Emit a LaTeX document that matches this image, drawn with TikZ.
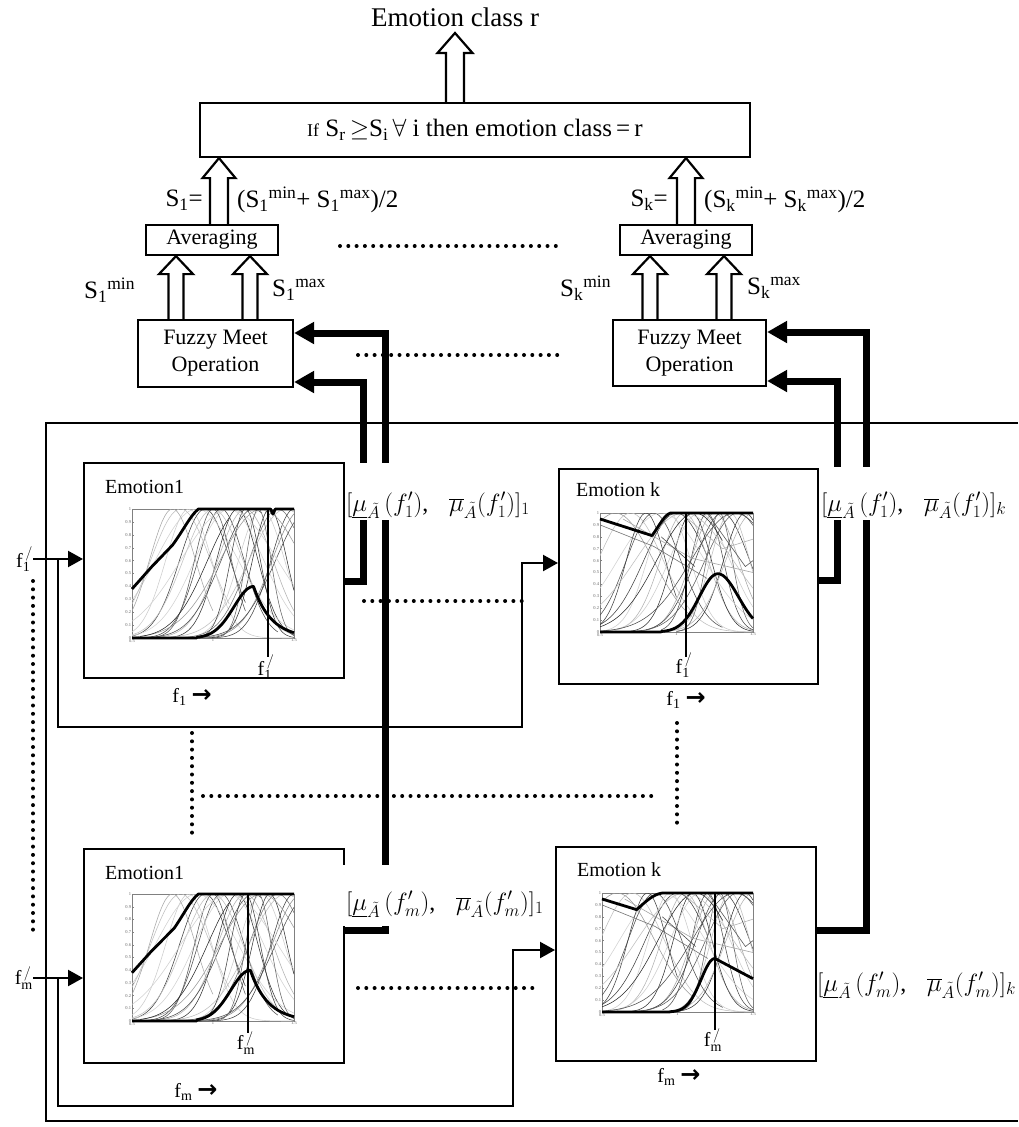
\documentclass[tikz,border=0pt]{standalone}
\usepackage{fontspec}
\setmainfont{Liberation Serif}
\newfontfamily\djv{DejaVu Sans}
\usetikzlibrary{arrows.meta,calc}
\newcommand\fp[1]{f$_{\mathrm{#1}}^{\,/}$}
\newcommand\rarr{{\djv\bfseries\fontsize{24}{24}\selectfont →}}
\newcommand\mulab[2]{$[\underline{\mu}_{\tilde{A}}\,(f_{#1}')\mbox{,}\;\;\;\overline{\mu}_{\tilde{A}}(f_{#1}')]_{#2}$}
\newcommand\harrow[5]{%
  \draw[hollow] let \p1=(#1), \p2=(#2) in
    (\x1-#3,\y1) -- (\x1-#3,\y2-#5) -- (\x1-#4,\y2-#5) -- (\x1,\y2) -- (\x1+#4,\y2-#5) -- (\x1+#3,\y2-#5) -- (\x1+#3,\y1);}
\newcommand\fplot[5]{\begin{scope}[shift={(#1,#2)},x={(#3pt,0pt)},y={(0pt,#4pt)}]#5\end{scope}}
\newcommand\plotaxes{%
  \draw[black!50,line width=0.5pt] (0,0) rectangle (1,1);
  \foreach \tk in {0,...,10}{%
    \draw[black!50,line width=0.4pt] (0,\tk/10) -- ++(2pt,0);
    \node[ticklab,anchor=east] at (0,\tk/10) {\ifnum\tk=0 0\else\ifnum\tk=10 1\else 0.\tk\fi\fi};}
  \node[ticklab,anchor=north] at (0,0) {0.5};
  \node[ticklab,anchor=north] at (0.5,0) {1};
  \node[ticklab,anchor=north] at (1,0) {1.5};}
\newcommand\curvesA{%
\begin{scope}
\clip (0,0) rectangle (1,1);
\foreach \mc/\mw/\mg/\ma/\mb in {
0.85/0.20/20/0/1, 0.95/0.22/75/0/0.7, 1.00/0.26/25/0/1, 1.05/0.20/70/0.1/0.9,
1.10/0.30/18/0/1, 1.15/0.18/80/0.2/1, 1.20/0.24/30/0/1, 1.25/0.28/70/0/0.8,
1.30/0.20/20/0/1, 1.35/0.15/80/0.35/1, 1.40/0.25/55/0.1/1, 1.45/0.32/25/0/1,
1.50/0.20/75/0.4/1, 1.55/0.26/45/0.2/1, 0.90/0.36/18/0/1, 1.00/0.16/65/0.15/0.7,
1.20/0.13/75/0.4/1, 1.30/0.36/40/0/1, 1.60/0.30/70/0.3/1, 0.80/0.26/25/0/0.6,
1.10/0.42/18/0/1, 1.28/0.11/60/0.55/1, 0.75/0.20/35/0/0.5, 1.18/0.30/85/0.05/0.6}
{\draw[black!\mg,line width=0.55pt] plot[domain=\ma:\mb,samples=28,smooth] (\x,{exp(-((\x+0.5-\mc)*(\x+0.5-\mc))/(\mw*\mw))});}
\end{scope}}
\newcommand\curvesB{%
\begin{scope}
\clip (0,0) rectangle (1,1);
\foreach \mc/\mw/\mg/\ma/\mb in {
0.70/0.30/25/0/1, 0.85/0.25/70/0/0.8, 0.95/0.20/20/0/1, 1.00/0.30/75/0/0.7,
1.05/0.22/30/0.1/1, 1.10/0.18/80/0.2/1, 1.15/0.28/20/0/1, 1.20/0.15/70/0.4/1,
1.25/0.22/35/0.2/1, 1.30/0.25/75/0.3/1, 1.35/0.18/25/0.4/1, 1.40/0.30/65/0.2/1,
1.45/0.20/80/0.5/1, 1.50/0.25/30/0.3/1, 0.60/0.35/40/0/0.6, 0.90/0.40/18/0/1,
1.12/0.35/85/0/0.8, 1.28/0.12/60/0.5/1, 0.80/0.18/75/0/0.5, 1.05/0.45/25/0/1,
1.38/0.40/70/0/1}
{\draw[black!\mg,line width=0.55pt] plot[domain=\ma:\mb,samples=28,smooth] (\x,{exp(-((\x+0.5-\mc)*(\x+0.5-\mc))/(\mw*\mw))});}
\draw[black!55,line width=0.6pt] (0,0.9) -- (0.35,0.72) -- (0.7,0.45);
\draw[black!35,line width=0.6pt] (0.15,0.95) -- (0.6,0.62) -- (1,0.5);
\draw[black!70,line width=0.6pt] (0.4,0.8) -- (0.62,0.55);
\draw[black!30,line width=0.6pt] (0.55,0.98) -- (0.8,0.7) -- (1,0.78);
\draw[black!65,line width=0.6pt] (0.7,1) -- (0.95,0.55) -- (1,0.6);
\end{scope}}
\begin{document}
\begin{tikzpicture}[x=1pt,y=-1pt,
  conn/.style={line width=2.2pt},
  thk/.style={line width=7pt},
  boxs/.style={draw,line width=2.2pt,inner sep=0pt},
  hollow/.style={draw,line width=2.2pt,line join=miter},
  dotl/.style={line width=4pt,line cap=round,dash pattern=on 0pt off 8.3pt},
  env/.style={line width=2.8pt,line join=round},
  lbl/.style={inner sep=0pt},
  mulbl/.style={anchor=base west,fill=white,inner xsep=0pt,inner ysep=0pt,font=\fontsize{24}{26}\selectfont},
  ticklab/.style={inner sep=0.8pt,font=\fontsize{4.5}{5}\selectfont,text=black!60},
  bigtip/.style={-{Triangle[length=20pt,width=21pt]}},
  smalltip/.style={-{Triangle[length=15pt,width=16pt]}},
  fline/.style={line width=1.6pt},
  etext/.style={inner sep=0pt,font=\fontsize{20}{22}\selectfont}]
\fill[white] (0,0) rectangle (1018,1127);
\useasboundingbox (0,0) rectangle (1018,1127);

% outer frame
\draw[conn] (1018,423) -- (46,423) -- (46,1121) -- (1018,1121);

% top part
\node[lbl,font=\fontsize{27}{30}\selectfont] (cls) at (455,17) {Emotion class r};
\node[boxs,minimum width=550pt,minimum height=54pt,font=\fontsize{25}{28}\selectfont] (dec) at (475,130)
  {{\fontsize{18}{20}\selectfont If} S\textsubscript{r}\,$\geq$S\textsubscript{i}\,$\forall$ i then emotion class\,=\,r};
\node[boxs,minimum width=132pt,minimum height=30pt,font=\fontsize{22}{24}\selectfont] (avg1) at (212,240) {Averaging};
\node[boxs,minimum width=132pt,minimum height=30pt,font=\fontsize{22}{24}\selectfont] (avgk) at (686,240) {Averaging};
\node[boxs,minimum width=155pt,minimum height=67pt,align=center,font=\fontsize{22}{27}\selectfont] (fmo1) at (215.5,353.5) {Fuzzy Meet\\Operation};
\node[boxs,minimum width=153pt,minimum height=66pt,align=center,font=\fontsize{22}{27}\selectfont] (fmok) at (689.5,353) {Fuzzy Meet\\Operation};

\coordinate (tt) at (455,33);
\coordinate (s1x) at (219,0);
\coordinate (skx) at (686,0);
\coordinate (a1x) at (176,0);
\coordinate (a2x) at (250,0);
\coordinate (a3x) at (650,0);
\coordinate (a4x) at (724,0);
\harrow{dec.north -| tt}{tt}{9pt}{17.5pt}{20pt}
\harrow{avg1.north -| s1x}{dec.south -| s1x}{9pt}{16.5pt}{20pt}
\harrow{avgk.north -| skx}{dec.south -| skx}{9pt}{16.5pt}{20pt}
\harrow{fmo1.north -| a1x}{avg1.south -| a1x}{7.5pt}{17pt}{18pt}
\harrow{fmo1.north -| a2x}{avg1.south -| a2x}{7.5pt}{17pt}{18pt}
\harrow{fmok.north -| a3x}{avgk.south -| a3x}{7.5pt}{17pt}{18pt}
\harrow{fmok.north -| a4x}{avgk.south -| a4x}{7.5pt}{17pt}{18pt}

\node[lbl,anchor=east,font=\fontsize{25}{28}\selectfont] (s1eq) at (203,200) {S\textsubscript{1}=};
\node[lbl,anchor=west,font=\fontsize{25}{28}\selectfont] (s1f) at (237,200) {(S\textsubscript{1}\textsuperscript{min}+ S\textsubscript{1}\textsuperscript{max})/2};
\node[lbl,anchor=east,font=\fontsize{25}{28}\selectfont] (skeq) at (668,200) {S\textsubscript{k}=};
\node[lbl,anchor=west,font=\fontsize{25}{28}\selectfont] (skf) at (704,200) {(S\textsubscript{k}\textsuperscript{min}+ S\textsubscript{k}\textsuperscript{max})/2};
\node[lbl,anchor=west,font=\fontsize{25}{27}\selectfont] (s1min) at (84,290) {S\textsubscript{1}\textsuperscript{min}};
\node[lbl,anchor=west,font=\fontsize{25}{27}\selectfont] (s1max) at (272,290) {S\textsubscript{1}\textsuperscript{max}};
\node[lbl,anchor=west,font=\fontsize{25}{27}\selectfont] (skmin) at (560,288) {S\textsubscript{k}\textsuperscript{min}};
\node[lbl,anchor=west,font=\fontsize{25}{27}\selectfont] (skmax) at (747,288) {S\textsubscript{k}\textsuperscript{max}};

% emotion boxes
\node[boxs,anchor=north west,minimum width=260pt,minimum height=215pt] (E11) at (83,462) {};
\node[boxs,anchor=north west,minimum width=259pt,minimum height=215pt] (Ek1) at (558,468) {};
\node[boxs,anchor=north west,minimum width=260pt,minimum height=214pt] (E1m) at (83,848) {};
\node[boxs,anchor=north west,minimum width=260pt,minimum height=214pt] (Ekm) at (555,846) {};

\node[etext,anchor=west] (t11) at (105,487) {Emotion1};
\node[etext,anchor=west] (tk1) at (576,490) {Emotion k};
\node[etext,anchor=west] (t1m) at (105,873) {Emotion1};
\node[etext,anchor=west] (tkm) at (577,870) {Emotion k};

\node[etext] (x11) at (192,697) {f\textsubscript{1} \rarr};
\node[etext] (xk1) at (686,700) {f\textsubscript{1} \rarr};
\node[etext] (x1m) at (196,1092) {f\textsubscript{m} \rarr};
\node[etext] (xkm) at (679,1077) {f\textsubscript{m} \rarr};

% plots
\fplot{132}{638}{162}{129}{\plotaxes\curvesA
  \draw[env] (0,0.38) -- (0.12,0.55) -- (0.25,0.72) .. controls (0.32,0.84) and (0.36,0.95) .. (0.41,1) -- (0.855,1) -- (0.87,0.96) -- (0.885,1) -- (1,1);
  \draw[env] (0,0) -- (0.4,0) -- plot[domain=0.4:0.75,samples=20,smooth] (\x,{0.4*exp(-((\x-0.75)*(\x-0.75))/(0.17*0.17))}) -- plot[domain=0.75:1,samples=15,smooth] (\x,{0.4*exp(-(\x-0.75)/0.11)});}
\fplot{600}{632}{153}{119}{\plotaxes\curvesB
  \draw[env] (0,0.95) -- (0.34,0.81) .. controls (0.39,0.9) and (0.42,0.98) .. (0.46,1) -- (1,1);
  \draw[env] (0,0) -- (0.4,0) -- plot[domain=0.4:0.77,samples=20,smooth] (\x,{0.49*exp(-((\x-0.77)*(\x-0.77))/(0.17*0.17))}) -- plot[domain=0.77:1,samples=15,smooth] (\x,{0.49*exp(-((\x-0.77)*(\x-0.77))/(0.19*0.19))});}
\fplot{132}{1021}{162}{127}{\plotaxes\curvesA
  \draw[env] (0,0.38) -- (0.12,0.55) -- (0.26,0.73) .. controls (0.32,0.84) and (0.36,0.95) .. (0.41,1) -- (1,1);
  \draw[env] (0,0) -- (0.4,0) -- plot[domain=0.4:0.73,samples=20,smooth] (\x,{0.4*exp(-((\x-0.73)*(\x-0.73))/(0.17*0.17))}) -- plot[domain=0.73:1,samples=15,smooth] (\x,{0.4*exp(-(\x-0.73)/0.11)});}
\fplot{602}{1012}{151}{119}{\plotaxes\curvesB
  \draw[env] (0,0.95) -- (0.23,0.86) .. controls (0.29,0.93) and (0.34,0.99) .. (0.4,1) -- (1,1);
  \draw[env] (0,0) -- (0.45,0) -- plot[domain=0.45:0.748,samples=20,smooth] (\x,{0.45*exp(-((\x-0.748)*(\x-0.748))/(0.13*0.13))}) -- (1,0.28);
  \draw[env] (0.748,0.45) -- (0.748,1);}

% feature markers
\node[etext] (m11) at (266,667) {\fp{1}};
\node[etext] (mk1) at (684,665) {\fp{1}};
\node[etext] (m1m) at (246,1043) {\fp{m}};
\node[etext] (mkm) at (713,1040) {\fp{m}};
\draw[fline] (268,509) -- (268,657);
\draw[fline] (686,513) -- (686,657);
\draw[fline] (248,894) -- (248,1033);
\draw[fline] (715,893) -- (715,1030);

% inputs
\node[etext,anchor=east] (f1in) at (33,559) {\fp{1}};
\node[etext,anchor=east] (fmin) at (33,978) {\fp{m}};
\draw[conn,smalltip] (f1in.east) -- (E11.west |- f1in.east);
\draw[conn,smalltip] (fmin.east) -- (E1m.west |- fmin.east);
\coordinate (b1) at (58,559);
\coordinate (r1) at (522,727);
\coordinate (bm) at (58,978);
\coordinate (rm) at (513,1106);
\draw[conn,smalltip] (b1) |- (r1) |- (Ek1.west |- 0,563);
\draw[conn,smalltip] (bm) |- (rm) |- (Ekm.west |- 0,950);

% thick outputs to fuzzy meet
\draw[thk,bigtip] (E11.east |- 0,581) -- (363,581) -- (363,382) -- (fmo1.east |- 0,382);
\draw[thk,bigtip] (E1m.east |- 0,930) -- (385,930) -- (385,333) -- (fmo1.east |- 0,333);
\draw[thk,bigtip] (Ek1.east |- 0,580) -- (837,580) -- (837,381) -- (fmok.east |- 0,381);
\draw[thk,bigtip] (Ekm.east |- 0,930) -- (866,930) -- (866,332) -- (fmok.east |- 0,332);

% interval labels
\node[mulbl,text height=48pt,text depth=9pt] (L11) at (346,511) {\mulab{1}{1}};
\node[mulbl,text height=44pt,text depth=9pt] (Lk1) at (821,511) {\mulab{1}{k}};
\node[mulbl,text height=45pt,text depth=16pt] (L1m) at (340,910) {\hspace{6pt}\mulab{m}{1}};
\node[mulbl] (Lkm) at (817,991) {\mulab{m}{k}};

% dotted continuation marks
\draw[dotl] (340,246) -- (556,246);
\draw[dotl] (358,355) -- (561,355);
\draw[dotl] (364,601) -- (522,601);
\draw[dotl] (33,581) -- (33,930);
\draw[dotl] (192,733) -- (192,835);
\draw[dotl] (203,796) -- (655,796);
\draw[dotl] (677,723) -- (677,827);
\draw[dotl] (358,988) -- (535,988);
\end{tikzpicture}
\end{document}
